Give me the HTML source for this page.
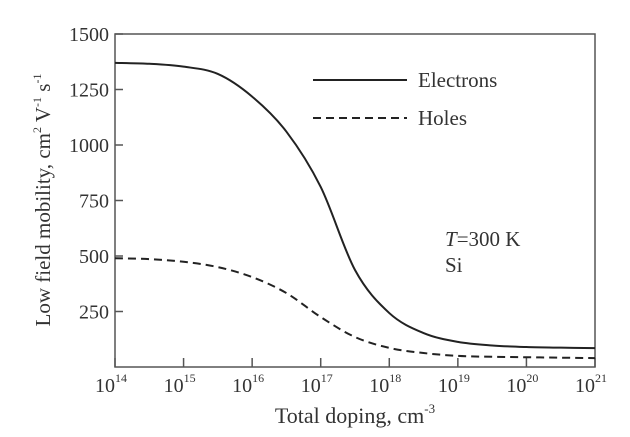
<!DOCTYPE html>
<html><head><meta charset="utf-8"><style>
body{margin:0;background:#fff}
svg{display:block;font-family:"Liberation Serif",serif;fill:#333}
</style></head><body>
<svg id="chart" width="630" height="437" viewBox="0 0 630 437">
<g id="axes"></g><g id="series"></g>
<g>
<line x1="313" y1="80" x2="407" y2="80" stroke="#222" stroke-width="2"/>
<text x="418" y="87" font-size="21">Electrons</text>
<line x1="313" y1="118" x2="407" y2="118" stroke="#222" stroke-width="2" stroke-dasharray="8,5"/>
<text x="418" y="125" font-size="21">Holes</text>
</g>
<text x="445" y="246" font-size="21"><tspan font-style="italic">T</tspan>=300 K</text>
<text x="445" y="272" font-size="21">Si</text>
<text x="355" y="423" font-size="22" text-anchor="middle">Total doping, cm<tspan font-size="13" dy="-10">-3</tspan></text>
<text transform="translate(50,200) rotate(-90)" font-size="21" text-anchor="middle">Low field mobility, cm<tspan font-size="12" dy="-9">2</tspan><tspan dy="9"> V</tspan><tspan font-size="12" dy="-9">-1</tspan><tspan dy="9"> s</tspan><tspan font-size="12" dy="-9">-1</tspan></text>
</svg>
<script>
const logDoping=[14,14.5,15,15.5,16,16.5,17,17.5,18,18.5,19,19.5,20,20.5,21];
const electrons=[1370,1366,1353,1320,1218,1060,811,437,243,153,113,97,90,87,85];
const holes=[490,486,474,450,405,333,225,135,86,63,50,46,44,42,40];
const xTicks=[14,15,16,17,18,19,20,21];
const yTicks=[250,500,750,1000,1250,1500];
const X0=115,X1=595,Y0=367,Y1=34;
const xs=v=>X0+(v-14)/7*(X1-X0);
const ys=v=>Y0-v/1500*(Y0-Y1);
const NS="http://www.w3.org/2000/svg";
function mk(tag,attrs,parent){const e=document.createElementNS(NS,tag);for(const k in attrs)e.setAttribute(k,attrs[k]);parent.appendChild(e);return e;}
const ax=document.getElementById('axes');
const frame=mk('rect',{x:X0,y:Y1,width:X1-X0,height:Y0-Y1,fill:'none',stroke:'#555','stroke-width':1.5},ax);


xTicks.forEach(t=>{
 const l=mk('line',{x1:xs(t),x2:xs(t),y1:Y0,y2:Y0-9,stroke:'#555','stroke-width':1.5},ax);
 
 
 const tx=mk('text',{x:xs(t)-4,y:Y0+25,'font-size':20,'text-anchor':'middle'},ax);
 
 
 tx.innerHTML='10<tspan font-size="12" dy="-10">'+t+'</tspan>';
});
yTicks.forEach(t=>{
 const l=mk('line',{x1:X0,x2:X0+8,y1:ys(t),y2:ys(t),stroke:'#555','stroke-width':1.5},ax);
 
 
 const tx=mk('text',{x:X0-6,y:ys(t)+7,'font-size':20,'text-anchor':'end'},ax);
 
 
 tx.textContent=t;
});
function pathD(vals){
 const p=vals.map((v,i)=>[xs(logDoping[i]),ys(v)]);
 let d='M'+p[0][0]+','+p[0][1];
 for(let i=0;i<p.length-1;i++){
  const a=p[Math.max(i-1,0)],b=p[i],c=p[i+1],e=p[Math.min(i+2,p.length-1)];
  d+=' C'+(b[0]+(c[0]-a[0])/6)+','+(b[1]+(c[1]-a[1])/6)+' '+(c[0]-(e[0]-b[0])/6)+','+(c[1]-(e[1]-b[1])/6)+' '+c[0]+','+c[1];
 }
 return d;
}
const sg=document.getElementById('series');
const pe=mk('path',{d:pathD(electrons),fill:'none',stroke:'#222','stroke-width':2},sg);


const ph=mk('path',{d:pathD(holes),fill:'none',stroke:'#222','stroke-width':2,'stroke-dasharray':'8,5'},sg);


</script>
</body></html>
